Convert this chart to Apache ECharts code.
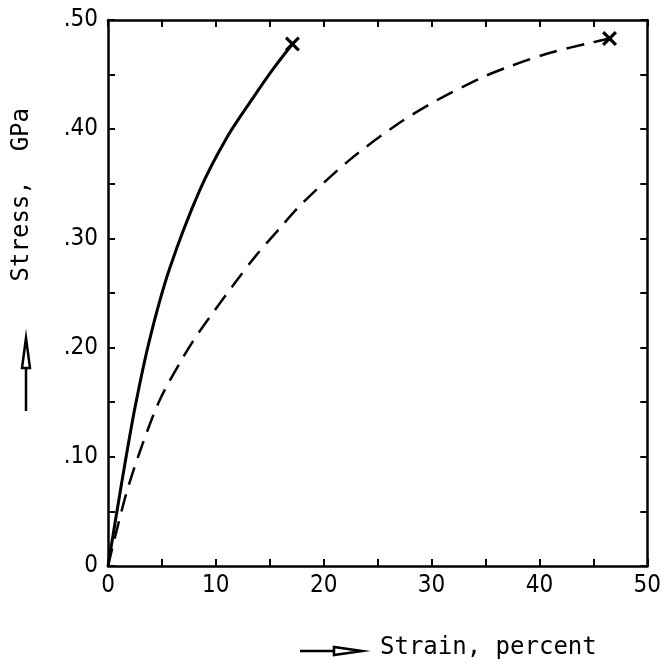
<!DOCTYPE html>
<html>
<head>
<meta charset="utf-8">
<script src="https://cdn.jsdelivr.net/npm/echarts@6/dist/echarts.min.js"></script>
<style>
html,body{margin:0;padding:0;background:#fff;}
#chart{width:664px;height:663px;}
</style>
</head>
<body>
<div id="chart"></div>
<script>
// Solid curve (strain %, stress GPa)
const solidStrain = [0, 1.3, 2.5, 3.9, 5.7, 8.5, 11.0, 13.4, 15.3, 17.1];
const solidStress = [0, 0.078, 0.145, 0.209, 0.272, 0.344, 0.392, 0.428, 0.455, 0.478];
// Dashed curve
const dashStrain = [0, 1.6, 3.0, 4.8, 6.9, 8.5, 11.9, 13.7, 15.9, 18.0, 22.3, 26.9, 30.4, 34.6, 37.1, 41.0, 44.7, 46.5];
const dashStress = [0, 0.063, 0.106, 0.152, 0.190, 0.215, 0.261, 0.284, 0.309, 0.332, 0.371, 0.405, 0.426, 0.447, 0.457, 0.470, 0.479, 0.483];
const xTicks = [0, 10, 20, 30, 40, 50];
const yTickLabels = ['0', '.10', '.20', '.30', '.40', '.50'];

const FONT = "'DejaVu Sans Condensed', 'DejaVu Sans', sans-serif";
const MONO = "'DejaVu Sans Mono', monospace";
const solidData = solidStrain.map((x, i) => [x, solidStress[i]]);
const dashData = dashStrain.map((x, i) => [x, dashStress[i]]);
const endPoints = [solidData[solidData.length - 1], dashData[dashData.length - 1]];
const crossPath = 'path://M0,1.5 L1.5,0 L5,3.5 L8.5,0 L10,1.5 L6.5,5 L10,8.5 L8.5,10 L5,6.5 L1.5,10 L0,8.5 L3.5,5 Z';

const axisLineStyle = { color: '#000', width: 2.5 };
const tickStyle = { show: true, inside: true, length: 7, lineStyle: { color: '#000', width: 2 } };
const minorStyle = { show: true, splitNumber: 2, length: 7, lineStyle: { color: '#000', width: 2 } };

const chart = echarts.init(document.getElementById('chart'), null, { renderer: 'canvas' });
chart.setOption({
  animation: false,
  backgroundColor: '#fff',
  grid: { left: 108, right: 14, top: 20, bottom: 97 },
  xAxis: [
    {
      type: 'value', min: xTicks[0], max: xTicks[xTicks.length - 1], interval: 10,
      axisLine: { show: true, onZero: false, lineStyle: axisLineStyle },
      axisTick: tickStyle, minorTick: minorStyle,
      splitLine: { show: false },
      axisLabel: { color: '#000', fontSize: 24, fontFamily: FONT, margin: 8 }
    },
    {
      type: 'value', position: 'top', min: xTicks[0], max: xTicks[xTicks.length - 1], interval: 10,
      axisLine: { show: true, onZero: false, lineStyle: axisLineStyle },
      axisTick: tickStyle, minorTick: minorStyle,
      splitLine: { show: false }, axisLabel: { show: false }
    }
  ],
  yAxis: [
    {
      type: 'value', min: 0, max: 0.5, interval: 0.1,
      axisLine: { show: true, onZero: false, lineStyle: axisLineStyle },
      axisTick: tickStyle, minorTick: minorStyle,
      splitLine: { show: false },
      axisLabel: {
        color: '#000', fontSize: 24, fontFamily: FONT, margin: 10,
        formatter: v => yTickLabels[Math.round(v * 10)]
      }
    },
    {
      type: 'value', position: 'right', min: 0, max: 0.5, interval: 0.1,
      axisLine: { show: true, onZero: false, lineStyle: axisLineStyle },
      axisTick: tickStyle, minorTick: minorStyle,
      splitLine: { show: false }, axisLabel: { show: false }
    }
  ],
  series: [
    {
      type: 'line', data: solidData, smooth: 0.3, showSymbol: false,
      lineStyle: { color: '#000', width: 3 }
    },
    {
      type: 'line', data: dashData, smooth: 0.3, showSymbol: false,
      lineStyle: { color: '#000', width: 2.5, type: [18, 10] }
    },
    {
      type: 'scatter', data: endPoints, symbol: crossPath, symbolSize: 15,
      itemStyle: { color: '#000', opacity: 1 }
    }
  ],
  graphic: [
    {
      type: 'text', left: 10, top: 108,
      rotation: Math.PI / 2,
      style: { text: 'Stress,  GPa', fill: '#000', font: "24px " + MONO }
    },
    {
      type: 'text', left: 380, top: 636,
      style: { text: 'Strain, percent', fill: '#000', font: "24px " + MONO }
    },
    // y arrow
    { type: 'line', shape: { x1: 26, y1: 411, x2: 26, y2: 366 }, style: { stroke: '#000', lineWidth: 2.5 } },
    { type: 'polygon', shape: { points: [[26, 338], [22, 368], [30, 368]] }, style: { stroke: '#000', fill: '#fff', lineWidth: 2.5 } },
    // x arrow
    { type: 'line', shape: { x1: 300, y1: 651, x2: 334, y2: 651 }, style: { stroke: '#000', lineWidth: 2.5 } },
    { type: 'polygon', shape: { points: [[362, 651], [334, 647], [334, 655]] }, style: { stroke: '#000', fill: '#fff', lineWidth: 2.5 } }
  ]
});
</script>
</body>
</html>
